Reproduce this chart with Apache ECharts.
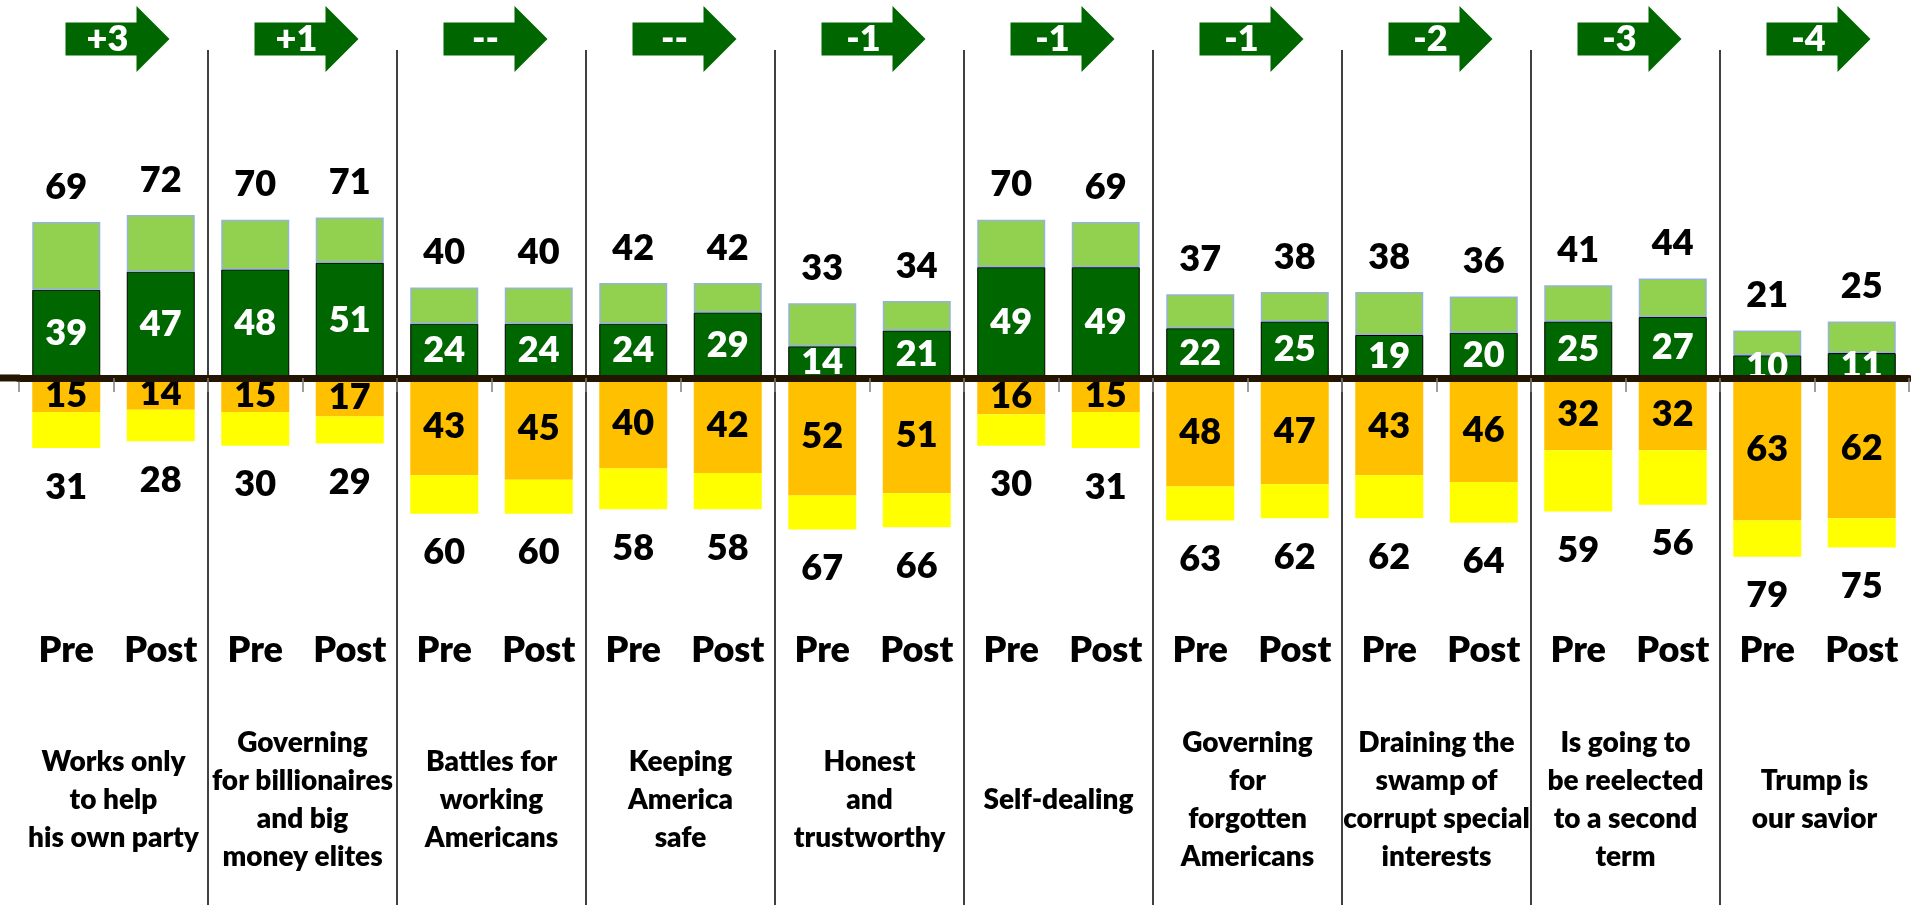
<!DOCTYPE html>
<html>
<head>
<meta charset="utf-8">
<script src="https://cdn.jsdelivr.net/npm/echarts@6/dist/echarts.min.js"></script>
<style>
html, body { margin: 0; padding: 0; background: #fff; }
#chart { width: 1911px; height: 905px; }
</style>
</head>
<body>
<div id="chart"></div>
<script>
var groups = ['Works only\nto help\nhis own party', 'Governing\nfor billionaires\nand big\nmoney elites',
    'Battles for\nworking\nAmericans', 'Keeping\nAmerica\nsafe', 'Honest\nand\ntrustworthy', 'Self-dealing',
    'Governing\nfor\nforgotten\nAmericans', 'Draining the\nswamp of\ncorrupt special\ninterests',
    'Is going to\nbe reelected\nto a second\nterm', 'Trump is\nour savior'];
var changes = ['+3', '+1', '--', '--', '-1', '-1', '-1', '-2', '-3', '-4'];
var periods = ['Pre', 'Post', 'Pre', 'Post', 'Pre', 'Post', 'Pre', 'Post', 'Pre', 'Post',
    'Pre', 'Post', 'Pre', 'Post', 'Pre', 'Post', 'Pre', 'Post', 'Pre', 'Post'];
var posTotal  = [69, 72, 70, 71, 40, 40, 42, 42, 33, 34, 70, 69, 37, 38, 38, 36, 41, 44, 21, 25];
var posStrong = [39, 47, 48, 51, 24, 24, 24, 29, 14, 21, 49, 49, 22, 25, 19, 20, 25, 27, 10, 11];
var negTotal  = [31, 28, 30, 29, 60, 60, 58, 58, 67, 66, 30, 31, 63, 62, 62, 64, 59, 56, 79, 75];
var negStrong = [15, 14, 15, 17, 43, 45, 40, 42, 52, 51, 16, 15, 48, 47, 43, 46, 32, 32, 63, 62];

var FONT = 'Lato';
var WEIGHT = 800;
var lightPart = posTotal.map(function (t, i) { return t - posStrong[i]; });
var yellowPart = negTotal.map(function (t, i) { return -(t - negStrong[i]); });
var orangePart = negStrong.map(function (v) { return -v; });

var numLabel = {fontFamily: FONT, fontWeight: WEIGHT, fontSize: 36, lineHeight: 36, color: '#000'};

var chart = echarts.init(document.getElementById('chart'));
var option = {
    animation: false,
    grid: [
        {left: 19, right: 2, top: 50, bottom: 0},
        {left: 19, right: 2, top: 0, height: 78}
    ],
    xAxis: [
        {   // zero line with ticks
            type: 'category', gridIndex: 0, data: periods, z: 10,
            axisLine: {onZero: true, lineStyle: {color: '#231500', width: 7}},
            axisTick: {show: true, length: 14, lineStyle: {color: '#808080', width: 1.5}},
            axisLabel: {show: false}
        },
        {   // statement names
            type: 'category', gridIndex: 0, data: groups, position: 'bottom',
            axisLine: {show: false, onZero: false}, axisTick: {show: false},
            axisLabel: {inside: true, margin: 105, interval: 0, verticalAlign: 'middle',
                fontFamily: FONT, fontWeight: WEIGHT, fontSize: 28, lineHeight: 38, color: '#000'}
        },
        {   // Pre / Post
            type: 'category', gridIndex: 0, data: periods, position: 'bottom',
            axisLine: {show: false, onZero: false}, axisTick: {show: false},
            axisLabel: {inside: true, margin: 255, interval: 0, verticalAlign: 'middle',
                fontFamily: FONT, fontWeight: WEIGHT, fontSize: 36, color: '#000'}
        },
        {   // arrows row
            type: 'category', gridIndex: 1, data: groups, show: false
        },
        {   // group separators
            type: 'value', gridIndex: 0, min: 0, max: 10, interval: 1, position: 'bottom',
            axisLine: {show: false, onZero: false}, axisTick: {show: false}, axisLabel: {show: false},
            splitLine: {show: true, showMinLine: false, showMaxLine: false,
                lineStyle: {color: '#000', width: 1.5}}
        }
    ],
    yAxis: [
        {type: 'value', gridIndex: 0, min: -233, max: 145, show: false, splitLine: {show: false}},
        {type: 'value', gridIndex: 1, min: -1, max: 1, show: false, splitLine: {show: false}}
    ],
    series: [
        {
            name: 'Strong positive', type: 'bar', stack: 'all', barWidth: 68,
            data: posStrong,
            itemStyle: {color: '#006600', borderColor: '#000', borderWidth: 1},
            label: Object.assign({show: true, position: 'inside'}, numLabel, {color: '#fff'})
        },
        {
            name: 'Positive', type: 'bar', stack: 'all', barWidth: 68,
            data: lightPart,
            itemStyle: {color: '#92D050', borderColor: '#95B3D7', borderWidth: 1.5},
            label: Object.assign({show: true, position: 'top', distance: 17,
                formatter: function (p) { return posTotal[p.dataIndex]; }}, numLabel)
        },
        {
            name: 'Strong negative', type: 'bar', stack: 'all', barWidth: 68,
            data: orangePart,
            itemStyle: {color: '#FFC000'},
            label: Object.assign({show: true, position: 'inside',
                formatter: function (p) { return negStrong[p.dataIndex]; }}, numLabel)
        },
        {
            name: 'Negative', type: 'bar', stack: 'all', barWidth: 68,
            data: yellowPart,
            itemStyle: {color: '#FFFF00'},
            label: Object.assign({show: true, position: 'bottom', distance: 21,
                formatter: function (p) { return negTotal[p.dataIndex]; }}, numLabel)
        },
        {
            name: 'Change', type: 'scatter', xAxisIndex: 3, yAxisIndex: 1,
            data: changes.map(function (c, i) { return [i, 0]; }),
            symbol: 'path://M0,16.5 L71,16.5 L71,0 L104,33 L71,66 L71,49.5 L0,49.5 Z',
            symbolSize: [104, 66], symbolOffset: [4, 0],
            itemStyle: {color: '#006600', opacity: 1},
            label: {show: true, position: 'inside', offset: [-10, 0],
                formatter: function (p) { return changes[p.dataIndex]; },
                fontFamily: FONT, fontWeight: WEIGHT, fontSize: 36, color: '#fff'}
        }
    ]
};
chart.setOption(option);

// the zero line runs a little past the axis on the left
var y0 = chart.convertToPixel({yAxisIndex: 0}, 0);
chart.setOption({
    graphic: [{type: 'line', z: 100, shape: {x1: 0, y1: y0, x2: 20, y2: y0},
        style: {stroke: '#231500', lineWidth: 7}}]
});
</script>
</body>
</html>
